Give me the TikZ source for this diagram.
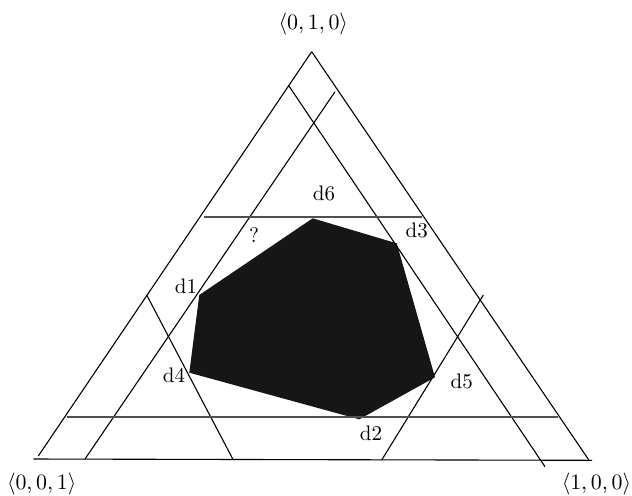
\documentclass[tikz,border=0pt]{standalone}
\usepackage{amsmath,amssymb}
\usepackage{tikz}
\usetikzlibrary{positioning,calc}
\definecolor{hullfill}{RGB}{22,22,22}
\definecolor{cutgray}{RGB}{80,80,80}
\tikzset{
  edge/.style={line width=0.55pt,black},
  cut/.style={line width=0.55pt,black},
  level/.style={line width=0.9pt,cutgray},
  vlab/.style={inner sep=1pt,font=\fontsize{10.5}{12}\selectfont}
}
\newcommand{\cutline}[3]{\draw[#1] (#2) -- (#3);}
\newcommand{\vlabel}[3]{\node[vlab] (#1) at (#2) {#3};}

\begin{document}
\begin{tikzpicture}[x=0.5pt,y=-0.5pt]
		\useasboundingbox (0,0) rectangle (632,495);
		% simplex corners and base
		\coordinate (top) at (311.7,51.7); \coordinate (left) at (38.3,456); \coordinate (right) at (589.3,460.7);
		\coordinate (bl) at (33.3,459); \coordinate (br) at (592,460.3);
		% cutting lines
		\coordinate (a1) at (85,459); \coordinate (a2) at (335,91.7);
		\coordinate (b1) at (288.3,85); \coordinate (b2) at (545,466.7);
		\coordinate (c1) at (146.7,295); \coordinate (c2) at (233.3,460);
		\coordinate (e1) at (483.3,295); \coordinate (e2) at (381.7,460);
		\coordinate (h1) at (204,216.7); \coordinate (h2) at (421.5,216.7);
		\coordinate (g1) at (66.7,416.7); \coordinate (g2) at (558.3,416.7);
		% hull vertices
		\coordinate (d1) at (199.3,295); \coordinate (d2) at (359.3,419.3); \coordinate (d3) at (396.7,243.3);
		\coordinate (d4) at (189.3,372.7); \coordinate (d5) at (435,377.3); \coordinate (d6) at (312.7,218.3);
		\fill[hullfill] (d6) -- (d3) -- (d5) -- (d2) -- (d4) -- (d1) -- cycle;
		\cutline{edge}{left}{top}\cutline{edge}{top}{right}\cutline{edge}{bl}{br}
		\cutline{cut}{a1}{a2}\cutline{cut}{b1}{b2}\cutline{cut}{c1}{c2}\cutline{cut}{e1}{e2}
		\cutline{level}{h1}{h2}\cutline{level}{g1}{g2}
		\vlabel{l6}{324,193.3}{d6}\vlabel{l3}{416.7,230}{d3}\vlabel{l1}{186,286}{d1}
		\vlabel{l4}{174,375}{d4}\vlabel{l5}{461.7,381.7}{d5}\vlabel{l2}{371,433}{d2}
		\vlabel{q}{254,235}{?}
		\vlabel{pt}{313.3,24}{$\langle 0,1,0\rangle$}\vlabel{pl}{41.7,484}{$\langle 0,0,1\rangle$}
		\node[vlab,anchor=east,inner sep=0pt] (pr) at (631.5,484) {$\langle 1,0,0\rangle$};
\end{tikzpicture}
\end{document}
